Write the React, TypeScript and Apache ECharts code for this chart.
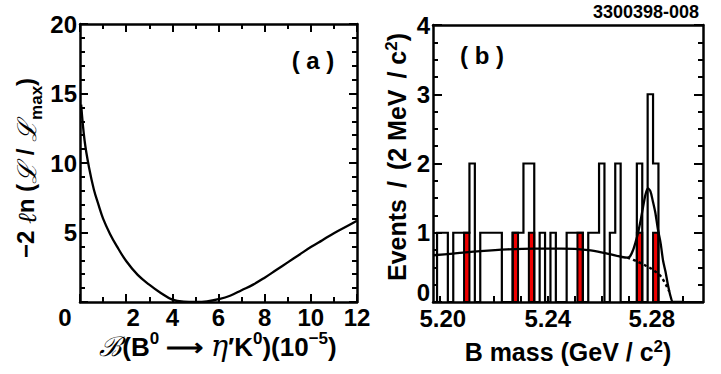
import React, { useEffect, useRef } from 'react';
import * as echarts from 'echarts';

// ---- Panel (a): -2 ln(L/Lmax) vs branching fraction (10^-5)
const likeBranching = [0.05, 0.2, 0.4, 0.6, 0.8, 1.0, 1.3, 1.6, 2.0, 2.5, 3.0, 3.5, 4.0, 4.5, 5.0, 5.5, 6.0, 6.5, 7.0, 7.5, 8.0, 8.5, 9.0, 9.5, 10.0, 10.5, 11.0, 11.5, 12.0];
const likeValues = [14.2, 11.6, 9.6, 8.1, 7.0, 6.0, 4.9, 4.0, 2.95, 1.95, 1.25, 0.65, 0.17, 0.02, 0.0, 0.04, 0.2, 0.45, 0.85, 1.25, 1.75, 2.3, 2.85, 3.4, 3.95, 4.45, 4.95, 5.4, 5.85];
const aXTicks = [0, 2, 4, 6, 8, 10, 12];
const aYTicks = [0, 5, 10, 15, 20];

// ---- Panel (b): B mass histogram (2 MeV bins)
const binStart = 5.199;
const binWidth = 0.002;
const eventCounts = [1, 1, 0, 1, 1, 1, 2, 0, 1, 1, 1, 1, 0, 0, 1, 1, 2, 2, 0, 1, 0, 1, 0, 0, 1, 1, 1, 0, 1, 1, 2, 0, 1, 2, 0, 0, 0, 2, 0, 3, 2, 0, 0, 0, 0, 0, 0, 0, 0];
const redBinCenters = [5.21, 5.228, 5.234, 5.252, 5.274, 5.28];
const redCounts = [1, 1, 1, 1, 1, 1];
const fitMass = [5.1975, 5.205, 5.215, 5.225, 5.235, 5.245, 5.255, 5.262, 5.2695, 5.2705, 5.2716, 5.2725, 5.2734, 5.2745, 5.2753, 5.2762, 5.2771, 5.278, 5.2789, 5.2798, 5.2808, 5.2818, 5.2827, 5.2836, 5.2845, 5.2855, 5.2864, 5.2905];
const fitValues = [0.675, 0.7, 0.735, 0.76, 0.77, 0.77, 0.75, 0.7, 0.64, 0.66, 0.75, 0.86, 0.99, 1.2, 1.37, 1.55, 1.64, 1.6, 1.46, 1.3, 1.05, 0.85, 0.6, 0.44, 0.25, 0.08, 0.0, 0.0];
const bkgMass = [5.2695, 5.2734, 5.2765, 5.2784, 5.2805, 5.2821, 5.2839, 5.285];
const bkgValues = [0.64, 0.58, 0.52, 0.48, 0.42, 0.36, 0.24, 0.15];
const bXLabels = [5.2, 5.24, 5.28];
const bXTickValues = [5.2, 5.21, 5.22, 5.23, 5.24, 5.25, 5.26, 5.27, 5.28, 5.29];

const FONT = 'Liberation Sans';
const BLACK = '#000';

function buildHistogram(): number[][] {
  const pts: number[][] = [[binStart, 0]];
  eventCounts.forEach((c, i) => {
    const lo = binStart + i * binWidth;
    const hi = lo + binWidth;
    pts.push([lo, c], [hi, c]);
  });
  pts.push([binStart + eventCounts.length * binWidth, 0]);
  return pts;
}

const axisLine = { show: true, onZero: false, lineStyle: { color: BLACK, width: 2.5 } };
const labelBase = { color: BLACK, fontFamily: FONT, fontWeight: 'bold' as const, fontSize: 24 };

function supStyles(lineH: number, size: number) {
  return {
    n: { fontFamily: FONT, fontWeight: 'bold', fontSize: size, color: BLACK, lineHeight: lineH, verticalAlign: 'bottom' },
    sup: { fontFamily: FONT, fontWeight: 'bold', fontSize: 17, color: BLACK, lineHeight: 17, verticalAlign: 'top' },
    s: { fontFamily: 'DejaVu Serif', fontStyle: 'italic', fontSize: size + 1, color: BLACK, lineHeight: lineH, verticalAlign: 'bottom' },
    e: { fontFamily: 'DejaVu Serif', fontStyle: 'italic', fontSize: size + 3, color: BLACK, lineHeight: lineH, verticalAlign: 'bottom' },
    g: { fontFamily: FONT, fontSize: size, lineHeight: lineH, verticalAlign: 'bottom', width: 11 },
  };
}

export default function App() {
  const ref = useRef<HTMLDivElement>(null);
  useEffect(() => {
    if (!ref.current) return;
    const chart = echarts.init(ref.current, null, { renderer: 'svg' });
    const richA = supStyles(30, 26);
    const richB = supStyles(26, 25);
    // subscript layout: main tokens top-aligned, sub token bottom-aligned
    const nT = { fontFamily: FONT, fontWeight: 'bold', fontSize: 24, color: BLACK, lineHeight: 24, verticalAlign: 'top' };
    const sub = { fontFamily: FONT, fontWeight: 'bold', fontSize: 17, color: BLACK, lineHeight: 31, verticalAlign: 'bottom' };
    const scriptT = { fontFamily: 'DejaVu Serif', fontStyle: 'italic', fontSize: 26, color: BLACK, lineHeight: 24, verticalAlign: 'top' };
    const tightLabel = { ...labelBase, lineHeight: 20 };
    const option: any = {
      animation: false,
      backgroundColor: '#fff',
      grid: [
        { left: 80, top: 24, width: 277, height: 278 },
        { left: 433, top: 25, width: 270, height: 277 },
      ],
      xAxis: [
        {
          gridIndex: 0, type: 'value', position: 'bottom', min: 0, max: 12, interval: 2,
          axisLine, splitLine: { show: false },
          axisTick: { show: true, inside: true, length: 8, lineStyle: { color: BLACK, width: 2 } },
          minorTick: { show: true, splitNumber: 2, length: 5, lineStyle: { color: BLACK, width: 2 } },
          axisLabel: {
            ...tightLabel, margin: 5,
            customValues: aXTicks,
            formatter: (v: number) => (v === 0 ? '{l|0}' : v === 2 ? '{r|2}' : String(v)),
            rich: {
              l: { ...tightLabel, padding: [0, 30, 0, 0] },
              r: { ...tightLabel, padding: [0, 0, 0, 14] },
            },
          },
        },
        {
          gridIndex: 0, type: 'value', position: 'top', min: 0, max: 12, interval: 2,
          axisLine, splitLine: { show: false }, axisLabel: { show: false },
          axisTick: { show: true, inside: true, length: 8, lineStyle: { color: BLACK, width: 2 } },
          minorTick: { show: true, splitNumber: 2, length: 5, lineStyle: { color: BLACK, width: 2 } },
        },
        {
          gridIndex: 1, type: 'value', position: 'bottom', min: 5.1975, max: 5.2975,
          axisLine, splitLine: { show: false },
          axisTick: { show: true, inside: true, length: 6, customValues: bXTickValues, lineStyle: { color: BLACK, width: 2 } },
          axisLabel: {
            ...tightLabel, margin: 6, customValues: bXLabels,
            formatter: (v: number) => (v < 5.21 ? '{a|5.20}' : v > 5.27 ? '{c|5.28}' : v.toFixed(2)),
            rich: {
              a: { ...tightLabel, padding: [0, 0, 0, 6] },
              c: { ...tightLabel, padding: [0, 8, 0, 0] },
            },
          },
        },
        {
          gridIndex: 1, type: 'value', position: 'top', min: 5.1975, max: 5.2975,
          axisLine, splitLine: { show: false }, axisLabel: { show: false }, axisTick: { show: false },
        },
      ],
      yAxis: [
        {
          gridIndex: 0, type: 'value', position: 'left', min: 0, max: 20, interval: 5,
          axisLine, splitLine: { show: false },
          axisTick: { show: true, inside: true, length: 8, lineStyle: { color: BLACK, width: 2 } },
          minorTick: { show: true, splitNumber: 5, length: 5, lineStyle: { color: BLACK, width: 2 } },
          axisLabel: { ...labelBase, margin: 3, customValues: aYTicks, formatter: (v: number) => (v === 0 ? '' : String(v)) },
        },
        {
          gridIndex: 0, type: 'value', position: 'right', min: 0, max: 20, interval: 5,
          axisLine, splitLine: { show: false }, axisLabel: { show: false },
          axisTick: { show: true, inside: true, length: 8, lineStyle: { color: BLACK, width: 2 } },
          minorTick: { show: true, splitNumber: 5, length: 5, lineStyle: { color: BLACK, width: 2 } },
        },
        {
          gridIndex: 1, type: 'value', position: 'left', min: 0, max: 4, interval: 1,
          axisLine, splitLine: { show: false },
          axisTick: { show: true, inside: true, length: 9, lineStyle: { color: BLACK, width: 2 } },
          minorTick: { show: true, splitNumber: 4, length: 5, lineStyle: { color: BLACK, width: 2 } },
          axisLabel: { ...tightLabel, margin: 3, verticalAlignMinLabel: 'bottom' },
        },
        {
          gridIndex: 1, type: 'value', position: 'right', min: 0, max: 4, interval: 1,
          axisLine, splitLine: { show: false }, axisLabel: { show: false },
          axisTick: { show: true, inside: true, length: 9, lineStyle: { color: BLACK, width: 2 } },
          minorTick: { show: true, splitNumber: 4, length: 5, lineStyle: { color: BLACK, width: 2 } },
        },
      ],
      series: [
        {
          type: 'line', xAxisIndex: 0, yAxisIndex: 0, smooth: 0.4, symbol: 'none',
          data: likeBranching.map((b, i) => [b, likeValues[i]]),
          lineStyle: { color: BLACK, width: 2.3 },
        },
        {
          type: 'custom', xAxisIndex: 2, yAxisIndex: 2, z: 2,
          data: redBinCenters.map((c, i) => [c, redCounts[i]]),
          encode: { x: 0, y: 1 },
          renderItem: (_p: any, api: any) => {
            const c = api.value(0);
            const v = api.value(1);
            const p0 = api.coord([c - binWidth / 2, 0]);
            const p1 = api.coord([c + binWidth / 2, v]);
            return {
              type: 'rect',
              shape: { x: p0[0], y: p1[1], width: p1[0] - p0[0], height: p0[1] - p1[1] },
              style: { fill: '#ee0000', stroke: BLACK, lineWidth: 2 },
            };
          },
        },
        {
          type: 'line', xAxisIndex: 2, yAxisIndex: 2, symbol: 'none', z: 3,
          data: buildHistogram(),
          lineStyle: { color: BLACK, width: 2.2, join: 'miter' },
        },
        {
          type: 'line', xAxisIndex: 2, yAxisIndex: 2, symbol: 'none', smooth: 0.3, z: 4,
          data: fitMass.map((m, i) => [m, fitValues[i]]),
          lineStyle: { color: BLACK, width: 2.3 },
        },
        {
          type: 'line', xAxisIndex: 2, yAxisIndex: 2, symbol: 'none', smooth: 0.3, z: 4,
          data: bkgMass.map((m, i) => [m, bkgValues[i]]),
          lineStyle: { color: BLACK, width: 2.4, type: [3, 3] },
        },
      ],
      graphic: [
        { type: 'text', x: 313, y: 60, style: { text: '( a )', font: `bold 24px "${FONT}"`, fill: BLACK, align: 'center', verticalAlign: 'middle' } },
        { type: 'text', x: 482, y: 55, style: { text: '( b )', font: `bold 24px "${FONT}"`, fill: BLACK, align: 'center', verticalAlign: 'middle' } },
        { type: 'text', x: 646, y: 12, style: { text: '3300398-008', font: `bold 18px "${FONT}"`, fill: BLACK, align: 'center', verticalAlign: 'middle' } },
        {
          type: 'text', x: 218, y: 345,
          style: {
            text: '{s|ℬ}{n|(B}{sup|0}{n| ⟶ }{e|η}{n|′K}{sup|0}{n|)(10}{sup|−5}{n|)}',
            align: 'center', verticalAlign: 'middle',
            rich: richA,
          },
        },
        {
          type: 'text', x: 29, y: 168, rotation: Math.PI / 2,
          style: {
            text: '{n|−2 }{l|ℓ}{n|n (}{s|ℒ}{n| / }{s|ℒ}{sub|max}{n|)}',
            align: 'center', verticalAlign: 'middle',
            rich: { n: nT, sub, l: scriptT, s: scriptT },
          },
        },
        {
          type: 'text', x: 568, y: 351,
          style: {
            text: '{n|B mass (GeV / c}{sup|2}{n|)}',
            align: 'center', verticalAlign: 'middle',
            rich: richB,
          },
        },
        {
          type: 'text', x: 396, y: 157, rotation: Math.PI / 2,
          style: {
            text: '{n|Events}{g|}{n|/}{g|}{n|(2 MeV}{g|}{n|/ c}{sup|2}{n|)}',
            align: 'center', verticalAlign: 'middle',
            rich: richB,
          },
        },
      ],
    };
    chart.setOption(option);
    return () => chart.dispose();
  }, []);
  return <div ref={ref} style={{ position: 'fixed', left: 0, top: 0, width: 721, height: 374, background: '#fff' }} />;
}
